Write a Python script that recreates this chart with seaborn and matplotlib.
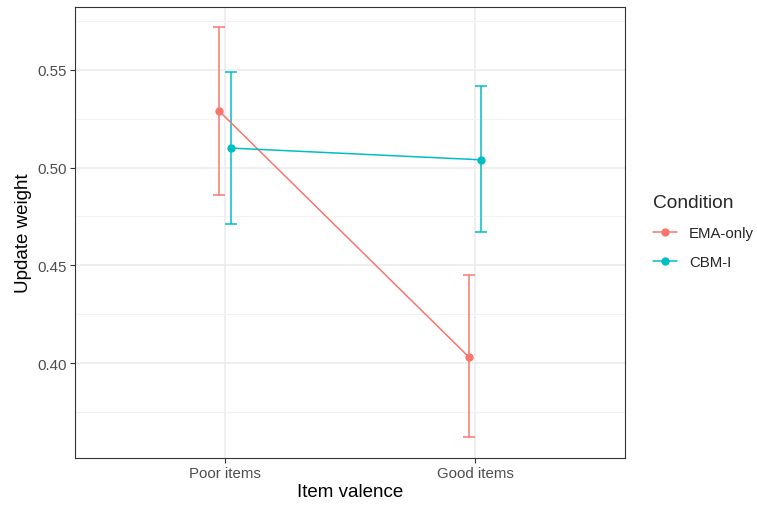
import numpy as np
import pandas as pd
import seaborn as sns
import matplotlib.pyplot as plt
from matplotlib.ticker import MultipleLocator

valence = ["Poor items", "Good items"]
conditions = ["EMA-only", "CBM-I"]
ema_mean = [0.529, 0.403]
ema_lower = [0.486, 0.362]
ema_upper = [0.572, 0.445]
cbm_mean = [0.510, 0.504]
cbm_lower = [0.471, 0.467]
cbm_upper = [0.549, 0.542]

colors = {"EMA-only": "#F8766D", "CBM-I": "#00BFC4"}
dodge = {"EMA-only": -0.024, "CBM-I": 0.024}

df = pd.DataFrame({
    "valence": valence * 2,
    "Condition": [conditions[0]] * 2 + [conditions[1]] * 2,
    "mean": ema_mean + cbm_mean,
    "lower": ema_lower + cbm_lower,
    "upper": ema_upper + cbm_upper,
})
df["x"] = df["valence"].map({v: i for i, v in enumerate(valence)}) + df["Condition"].map(dodge)

sns.set_theme(style="white")
plt.rcParams["font.family"] = ["Liberation Sans", "DejaVu Sans"]

fig = plt.figure(figsize=(7.57, 5.06), dpi=100)
ax = fig.add_axes([75 / 757, 1 - 459 / 506, 550 / 757, 451 / 506])

# grid
ax.yaxis.set_major_locator(MultipleLocator(0.05))
ax.yaxis.set_minor_locator(MultipleLocator(0.025))
ax.grid(which="major", color="#EBEBEB", linewidth=1.1)
ax.grid(which="minor", axis="y", color="#F2F2F2", linewidth=0.8)
ax.set_axisbelow(True)

for cond in conditions:
    d = df[df["Condition"] == cond]
    ax.errorbar(d["x"], d["mean"],
                yerr=[d["mean"] - d["lower"], d["upper"] - d["mean"]],
                fmt="none", ecolor=colors[cond], elinewidth=1.1,
                capsize=4.3, capthick=1.1, zorder=2)

sns.lineplot(data=df, x="x", y="mean", hue="Condition", hue_order=conditions,
             palette=colors, marker="o", markersize=6, markeredgewidth=0,
             linewidth=1.1, ax=ax, zorder=3)

ax.set_xlim(-0.6, 1.6)
ax.set_ylim(0.3514, 0.5822)
ax.set_xticks(range(len(valence)))
ax.set_xticklabels(valence)
ax.set_yticks([0.40, 0.45, 0.50, 0.55])
ax.set_yticklabels(["0.40", "0.45", "0.50", "0.55"])
ax.tick_params(axis="both", which="major", length=3.5, width=0.8, color="#333333",
               labelcolor="#4D4D4D", labelsize=10.8, bottom=True, left=True, pad=2.5)
ax.tick_params(which="minor", length=0)

for s in ax.spines.values():
    s.set_color("#333333")
    s.set_linewidth(0.8)

ax.set_xlabel("Item valence", fontsize=13.5, color="black", labelpad=2)
ax.set_ylabel("Update weight", fontsize=13.5, color="black", labelpad=4)

handles, labels = ax.get_legend_handles_labels()
ax.legend(handles, labels, title="Condition", loc="upper left",
          bbox_to_anchor=(0.8626, 0.615), bbox_transform=fig.transFigure,
          frameon=False, fontsize=10.8, title_fontsize=13.8,
          handlelength=1.6, handletextpad=0.8, labelspacing=1.0,
          alignment="left", borderaxespad=0, borderpad=0)

fig.savefig("out.png", dpi=100)
